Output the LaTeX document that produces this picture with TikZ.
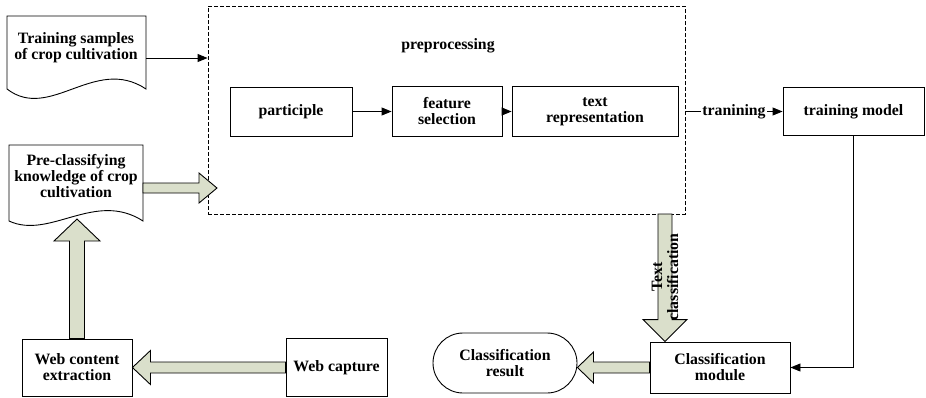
\documentclass[tikz,border=0pt]{standalone}
\usepackage{fontspec}
\setmainfont{Liberation Serif}
\usetikzlibrary{arrows.meta, positioning, calc}
\definecolor{arrowgray}{RGB}{218, 223, 203}

\begin{document}
\begin{tikzpicture}[x=1pt, y=-1pt, line width=0.9pt,
  every node/.style={font=\bfseries\fontsize{15.8}{16}\selectfont, align=center},
  box/.style={draw, inner sep=0pt},
  fatarrow/.style={draw, fill=arrowgray, line join=miter},
  thinarrow/.style={-{Triangle[length=10pt, width=8pt]}}]
  \useasboundingbox (0,0) rectangle (926,397);

  % Preprocessing frame
  \node[draw, dash pattern=on 4pt off 2pt, minimum width=477, minimum height=208] (prep) at (446.5,110) {};
  \node (preptitle) at (448,46) {preprocessing};

  \node[box, minimum width=122, minimum height=49] (part) at (291,111.5) {participle};
  \node[box, minimum width=110, minimum height=50] (feat) at (447,111.5) {feature\\selection};
  \node[box, minimum width=166, minimum height=50] (textrep) at (595,111.5) {text\\representation};
  \node[box, minimum width=141, minimum height=48] (train) at (853.5,111.5) {training model};

  % Documents
  \node (tsdoc) at (76,48) {Training samples\\of crop cultivation};
  \draw (7,16) -- (146,16) -- (146,89) .. controls (95,55) and (50,122) .. (7,89) -- cycle;
  \node (predoc) at (76,176) {Pre-classifying\\knowledge of crop\\cultivation};
  \draw (9,145) -- (143,145) -- (143,221) .. controls (95,190) and (50,240) .. (9,221) -- cycle;

  % Bottom row
  \node[box, minimum width=110, minimum height=57] (webext) at (77,367.5) {Web content\\extraction};
  \node[box, minimum width=101, minimum height=58] (webcap) at (336.5,367.5) {Web capture};
  \node[box, rounded corners=30, minimum width=144, minimum height=60] (result) at (505,363) {Classification\\result};
  \node[box, minimum width=140, minimum height=51] (clsmod) at (720,367.5) {Classification\\module};

  % Thin arrows
  \coordinate (tsout) at (146,58);
  \draw[thinarrow] (tsout) -- (tsout -| prep.west);
  \draw[thinarrow] (part) -- (feat);
  \draw[thinarrow] (feat) -- (textrep);
  \draw[thinarrow] (prep.east |- textrep.east) -- node[fill=white, inner sep=1pt] (trainlabel) {tranining} (train.west);
  \draw[thinarrow] (train.south) |- (clsmod.east);

  % Fat arrows
  \draw[fatarrow] ([yshift=5.5]webcap.west) -- ([xshift=18,yshift=5.5]webext.east) -- ([xshift=18,yshift=17]webext.east) -- (webext.east)
    -- ([xshift=18,yshift=-17]webext.east) -- ([xshift=18,yshift=-5.5]webext.east) -- ([yshift=-5.5]webcap.west) -- cycle;

  \coordinate (predocin) at (77,219);
  \draw[fatarrow] ([xshift=-7.5]webext.north) -- ([xshift=-7.5,yshift=-22]predocin) -- ([xshift=-23,yshift=-22]predocin) -- (predocin)
    -- ([xshift=23,yshift=-22]predocin) -- ([xshift=7.5,yshift=-22]predocin) -- ([xshift=7.5]webext.north) -- cycle;

  \coordinate (predocout) at (143,188);
  \coordinate (prepin) at (217,188);
  \draw[fatarrow] ([yshift=5]predocout) -- ([xshift=-18,yshift=5]prepin) -- ([xshift=-18,yshift=15]prepin) -- (prepin)
    -- ([xshift=-18,yshift=-15]prepin) -- ([xshift=-18,yshift=-5]prepin) -- ([yshift=-5]predocout) -- cycle;

  \coordinate (tcstart) at (665,214);
  \coordinate (tcend) at (tcstart |- clsmod.north);
  \draw[fatarrow] ([xshift=-7]tcstart) -- ([xshift=-7,yshift=22]tcend) -- ([xshift=-22,yshift=22]tcend) -- (tcend)
    -- ([xshift=22,yshift=22]tcend) -- ([xshift=7,yshift=22]tcend) -- ([xshift=7]tcstart) -- cycle;
  \node[rotate=90] (tclabel) at (665,277) {Text\\classification};

  \coordinate (resin) at (result.east |- clsmod.west);
  \draw[fatarrow] ([yshift=5.5]clsmod.west) -- ([xshift=16,yshift=5.5]resin) -- ([xshift=16,yshift=15.5]resin) -- (resin)
    -- ([xshift=16,yshift=-15.5]resin) -- ([xshift=16,yshift=-5.5]resin) -- ([yshift=-5.5]clsmod.west) -- cycle;
\end{tikzpicture}
\end{document}
